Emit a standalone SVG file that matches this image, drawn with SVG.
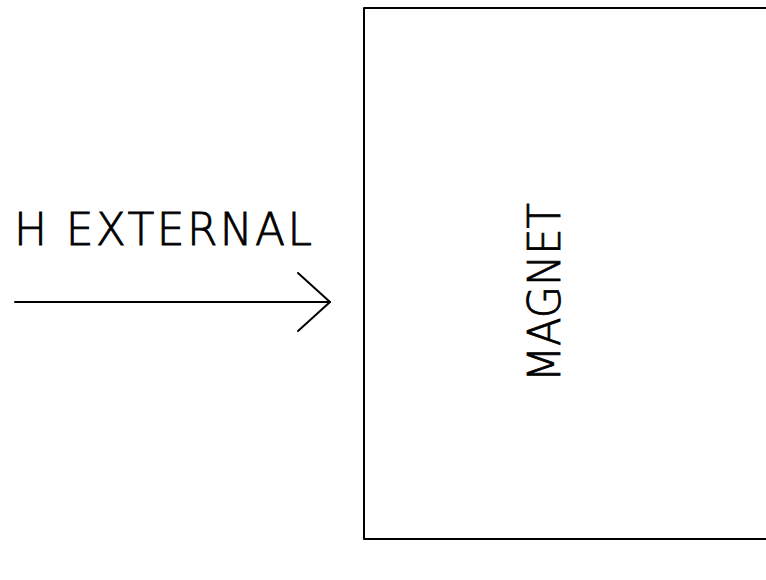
<svg xmlns="http://www.w3.org/2000/svg" width="766" height="580" viewBox="0 0 766 580">
<style>
.t{font-family:"DejaVu Sans","Liberation Sans",Arial,sans-serif;font-weight:200;font-size:44px;fill:#000;stroke:#000;stroke-width:0.8}
.ln{stroke:#000;stroke-width:2;fill:none;stroke-linecap:round;stroke-linejoin:round}
</style>
<rect width="766" height="580" fill="#fff"/>
<g id="magnet">
<path class="ln" d="M780 8 H364 V539 H780"/>
<text class="t" transform="translate(560,382) rotate(-90)" textLength="179" lengthAdjust="spacingAndGlyphs">MAGNET</text>
</g>
<g id="h-external">
<text class="t" x="14" y="245" textLength="298" lengthAdjust="spacing">H EXTERNAL</text>
</g>
<g id="connectors">
<path class="ln" d="M15 302 H330"/>
<path class="ln" d="M298 273 L330 302 L298 331"/>
</g>
</svg>
